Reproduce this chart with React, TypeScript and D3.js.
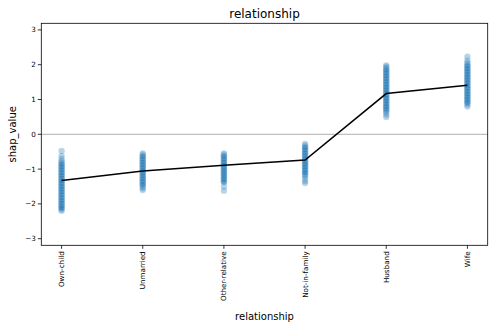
import React from "react";
import * as d3 from "d3";

const categories = ["Own-child", "Unmarried", "Other-relative", "Not-in-family", "Husband", "Wife"];
const meanValues = [-1.33, -1.055, -0.89, -0.74, 1.17, 1.41];
const yTicks = [-3, -2, -1, 0, 1, 2, 3];

const ownChild = [-0.48, -0.62, -0.7, -0.76, -0.8, -0.84, -0.88, -0.92, -0.96, -1.0, -1.04, -1.08, -1.12, -1.16, -1.2, -1.24, -1.28, -1.32, -1.36, -1.4, -1.44, -1.48, -1.52, -1.56, -1.6, -1.64, -1.68, -1.72, -1.76, -1.8, -1.84, -1.88, -1.92, -1.96, -2.0, -2.04, -2.08, -2.12, -2.16, -2.2, -0.86, -0.94, -1.02, -1.1, -1.18, -1.26, -1.34, -1.42, -1.5, -1.58, -1.66, -1.74, -1.82, -1.9, -1.98, -2.06, -2.12];
const unmarried = [-0.55, -0.58, -0.62, -0.66, -0.7, -0.74, -0.78, -0.82, -0.86, -0.9, -0.94, -0.98, -1.02, -1.06, -1.1, -1.14, -1.18, -1.22, -1.26, -1.3, -1.34, -1.38, -1.42, -1.46, -1.5, -1.55, -1.6, -0.64, -0.72, -0.8, -0.88, -0.96, -1.04, -1.12, -1.2, -1.28, -1.36, -1.44];
const otherRelative = [-0.55, -0.58, -0.62, -0.66, -0.7, -0.74, -0.78, -0.82, -0.86, -0.9, -0.94, -0.98, -1.02, -1.06, -1.1, -1.14, -1.18, -1.22, -1.26, -1.3, -1.34, -1.38, -1.5, -1.62, -0.64, -0.72, -0.8, -0.88, -0.96, -1.04, -1.12, -1.2, -1.28, -1.36];
const notInFamily = [-0.28, -0.32, -0.36, -0.4, -0.44, -0.48, -0.52, -0.56, -0.6, -0.64, -0.68, -0.72, -0.76, -0.8, -0.84, -0.88, -0.92, -0.96, -1.0, -1.04, -1.08, -1.12, -1.16, -1.2, -1.26, -1.34, -1.4, -0.38, -0.46, -0.54, -0.62, -0.7, -0.78, -0.86, -0.94, -1.02, -1.1];
const husband = [0.5, 0.56, 0.62, 0.66, 0.7, 0.74, 0.78, 0.82, 0.86, 0.9, 0.94, 0.98, 1.02, 1.06, 1.1, 1.14, 1.18, 1.22, 1.26, 1.3, 1.34, 1.38, 1.42, 1.46, 1.5, 1.54, 1.58, 1.62, 1.66, 1.7, 1.74, 1.78, 1.82, 1.86, 1.9, 1.94, 1.98, 0.72, 0.8, 0.88, 0.96, 1.04, 1.12, 1.2, 1.28, 1.36, 1.44, 1.52, 1.6, 1.68, 1.76, 1.84];
const wife = [2.23, 2.12, 2.06, 2.02, 1.98, 1.94, 1.9, 1.86, 1.82, 1.78, 1.74, 1.7, 1.66, 1.62, 1.58, 1.54, 1.5, 1.46, 1.42, 1.38, 1.34, 1.3, 1.26, 1.22, 1.18, 1.14, 1.1, 1.06, 1.02, 0.98, 0.94, 0.9, 0.86, 0.8, 1.96, 1.88, 1.8, 1.72, 1.64, 1.56, 1.48, 1.4, 1.32, 1.24, 1.16, 1.08, 1.0, 0.92];
const pointSeries = [ownChild, unmarried, otherRelative, notInFamily, husband, wife];

const W = 494;
const H = 329;
const left = 41.3;
const right = 487.7;
const top = 23.3;
const bottom = 245.3;

export default function App() {
  const x = d3.scaleLinear().domain([-0.25, categories.length - 0.75]).range([left, right]);
  const y = d3.scaleLinear().domain([-3.19, 3.19]).range([bottom, top]);
  const line = d3
    .line<number>()
    .x((_, i) => x(i))
    .y((d) => y(d));
  const font = "DejaVu Sans, sans-serif";

  return (
    <svg width={W} height={H} style={{ position: "absolute", left: 0, top: 0, background: "#fff" }}>
      <rect x={0} y={0} width={W} height={H} fill="#fff" />
      <line x1={left} x2={right} y1={y(0)} y2={y(0)} stroke="#b0b0b0" strokeWidth={1} />
      {pointSeries.map((vals, i) =>
        vals.map((v, j) => (
          <circle
            key={`${i}-${j}`}
            cx={x(i)}
            cy={y(v)}
            r={3.2}
            fill="#1f77b4"
            fillOpacity={0.32}
            stroke="#ffffff"
            strokeOpacity={0.25}
            strokeWidth={0.5}
          />
        ))
      )}
      <path d={line(meanValues) || ""} fill="none" stroke="#000" strokeWidth={1.5} />
      <rect x={left} y={top} width={right - left} height={bottom - top} fill="none" stroke="#000" strokeWidth={0.8} />
      {yTicks.map((t) => (
        <g key={t}>
          <line x1={left - 3.5} x2={left} y1={y(t)} y2={y(t)} stroke="#000" strokeWidth={0.8} />
          <text x={left - 5.5} y={y(t)} dy="0.35em" textAnchor="end" fontSize={7.2} fontFamily={font} fill="#000">
            {t < 0 ? `\u2212${Math.abs(t)}` : t}
          </text>
        </g>
      ))}
      {categories.map((c, i) => (
        <g key={c}>
          <line x1={x(i)} x2={x(i)} y1={bottom} y2={bottom + 3.5} stroke="#000" strokeWidth={0.8} />
          <text
            transform={`translate(${x(i)},${bottom + 6}) rotate(-90)`}
            textAnchor="end"
            dy="0.35em"
            fontSize={7.2}
            fontFamily={font}
            fill="#000"
          >
            {c}
          </text>
        </g>
      ))}
      <text x={(left + right) / 2} y={17.5} textAnchor="middle" fontSize={12} fontFamily={font} fill="#000">
        relationship
      </text>
      <text x={(left + right) / 2} y={319.5} textAnchor="middle" fontSize={10} fontFamily={font} fill="#000">
        relationship
      </text>
      <text
        transform={`translate(16,${(top + bottom) / 2}) rotate(-90)`}
        textAnchor="middle"
        fontSize={10}
        fontFamily={font}
        fill="#000"
      >
        shap_value
      </text>
    </svg>
  );
}
